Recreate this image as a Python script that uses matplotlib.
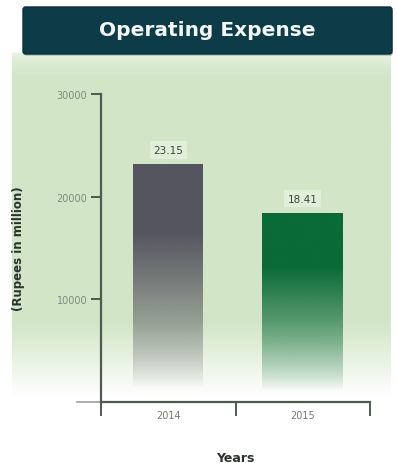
import numpy as np
import matplotlib
matplotlib.use("Agg")
import matplotlib.pyplot as plt
from matplotlib.patches import FancyBboxPatch
from matplotlib.colors import to_rgb

# ---- data ----
years = ["2014", "2015"]
expense = [23150, 18410]          # Rupees in million
y_ticks = [10000, 20000, 30000]
title = "Operating Expense"

# ---- styles ----
bar_colors = ["#55555f", "#0a6a38"]
bar_widths = [0.52, 0.60]
bg_green = "#d2e6c7"
axis_color = "#4d5c4f"

W, H = 397, 464
fig = plt.figure(figsize=(W / 100, H / 100), dpi=100)
fig.patch.set_facecolor("white")

# soft green backdrop, pale just under the banner, fading to white at the bottom
bg = fig.add_axes([0, 0, 1, 1], zorder=0)
bg.set_axis_off()
rows = np.linspace(0, 1, 400)[:, None]
ypix = rows * H
fade = np.clip((ypix - 330) / 75, 0, 1)
top_fade = np.clip((ypix - 55) / 22, 0, 1) * 0.45 + 0.55
mix = (1 - fade) * np.where(ypix < 54, 0, 1) * top_fade
g = np.array(to_rgb(bg_green))
w = np.array([1.0, 1.0, 1.0])
img = w[None, None, :] * (1 - mix[..., None]) + g[None, None, :] * mix[..., None]
img = np.repeat(img, 2, axis=1)
bg.imshow(img, extent=(12, W - 6, H - 8, 0), aspect="auto", interpolation="bilinear")
bg.set_xlim(0, W)
bg.set_ylim(H, 0)

# title banner with a faint drop shadow
shadow = FancyBboxPatch((24 / W, 1 - 57 / H), 369 / W, 47 / H,
                        boxstyle="round,pad=0,rounding_size=0.006",
                        transform=fig.transFigure, facecolor="#9fb5a6",
                        edgecolor="none", alpha=0.6, zorder=1.5)
fig.patches.append(shadow)
banner = FancyBboxPatch((23 / W, 1 - 55 / H), 369 / W, 47 / H,
                        boxstyle="round,pad=0,rounding_size=0.006",
                        transform=fig.transFigure, facecolor="#0e3b48",
                        edgecolor="#0a2f3a", linewidth=1, zorder=2)
fig.patches.append(banner)
fig.text(207 / W, 1 - 31 / H, title, color="#f2f7f7", fontsize=14.5,
         fontweight="bold", ha="center", va="center", zorder=3)

# main plot
ax = fig.add_axes([101 / W, 1 - 403 / H, 269 / W, 308 / H], zorder=1)
ax.patch.set_alpha(0)
ax.set_xlim(0, len(years))
ax.set_ylim(0, y_ticks[-1])

x = np.arange(len(years)) + 0.5
for xi, val, col, wd in zip(x, expense, bar_colors, bar_widths):
    bar = ax.bar(xi, val, width=wd, color="none", edgecolor="none")[0]
    n = 256
    t = np.linspace(1, 0, n)[:, None]             # 1 at top, 0 at bottom
    alpha = np.clip((t - 0.06) / 0.65, 0, 1) ** 0.85
    rgba = np.zeros((n, 2, 4))
    rgba[..., :3] = to_rgb(col)
    rgba[..., 3] = alpha
    im = ax.imshow(rgba, extent=(xi - wd / 2, xi + wd / 2, 0, val),
                   aspect="auto", interpolation="bilinear", zorder=2)
    im.set_clip_path(bar)
    ax.text(xi, val + 900, f"{val / 1000:.2f}", ha="center", va="bottom",
            fontsize=7.5, color="#3a473c",
            bbox=dict(boxstyle="square,pad=0.35", facecolor="#e6f1df",
                      edgecolor="none", alpha=0.8))

# axes styling
for s in ["top", "right"]:
    ax.spines[s].set_visible(False)
for s in ["left", "bottom"]:
    ax.spines[s].set_color(axis_color)
    ax.spines[s].set_linewidth(1.6)

ax.set_yticks(y_ticks)
ax.set_yticklabels([f"{v}" for v in y_ticks])
ax.tick_params(axis="y", direction="out", length=7, width=1.4,
               color=axis_color, labelsize=7, labelcolor="#7d8a7e", pad=3)

ax.set_xticks(np.arange(len(years) + 1))
ax.set_xticklabels([])
ax.set_xticks(x, minor=True)
ax.set_xticklabels(years, minor=True)
ax.tick_params(axis="x", which="major", direction="out", length=10,
               width=1.4, color=axis_color)
ax.tick_params(axis="x", which="minor", length=0, labelsize=7,
               labelcolor="#6f7c70", pad=6)

# faint extension of the baseline to the left
ax.plot([-0.18, 0], [0, 0], color="#9aa39a", lw=1.2, clip_on=False)

ax.set_ylabel("(Rupees in million)", fontsize=8.5, fontweight="bold",
              color="#2b332c")
ax.yaxis.set_label_coords(-(101 - 25) / 269, 0.5)
ax.set_xlabel("Years", fontsize=9, fontweight="bold", color="#2b332c")
ax.xaxis.set_label_coords(0.5, -(452 - 403) / 308)

fig.savefig("out.png", dpi=100)
